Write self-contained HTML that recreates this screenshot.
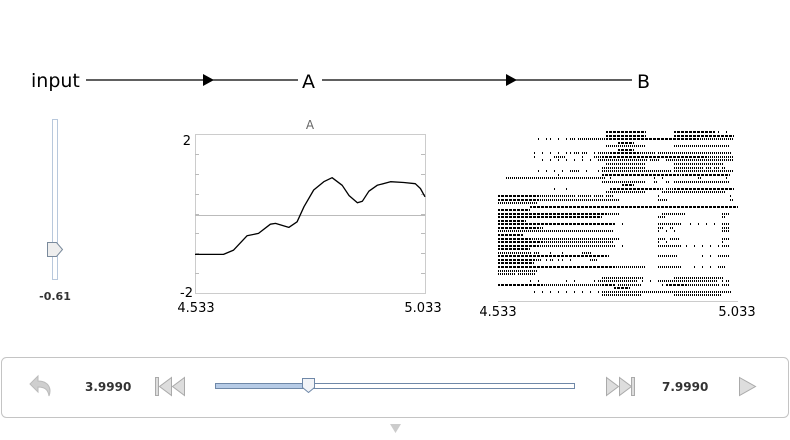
<!DOCTYPE html>
<html><head><meta charset="utf-8"><style>
body{margin:0;width:790px;height:440px;background:#fff;overflow:hidden;font-family:"Liberation Sans","DejaVu Sans",sans-serif}
svg{position:absolute;left:0;top:0}
</style></head><body>
<svg id="s" width="790" height="440" viewBox="0 0 790 440" font-family="DejaVu Sans, Liberation Sans, sans-serif">
  <g>
    <text x="31" y="87" font-size="19" fill="#000">input</text>
    <line x1="86" y1="80" x2="298" y2="80" stroke="#000" stroke-width="1.2"/>
    <polygon points="203,74 214,80 203,86" fill="#000"/>
    <text x="302" y="88" font-size="19" fill="#000">A</text>
    <line x1="322" y1="80" x2="632" y2="80" stroke="#000" stroke-width="1.2"/>
    <polygon points="506,74 517,80 506,86" fill="#000"/>
    <text x="637" y="88" font-size="19" fill="#000">B</text>
  </g>
  <g>
    <rect x="52.5" y="119.5" width="5" height="160" fill="#fff" stroke="#b8c8dc"/>
    <polygon points="47.5,242.5 56.5,242.5 62.5,249.5 56.5,256.5 47.5,256.5" fill="#eee" stroke="#7a8a9c"/>
    <text x="55" y="300" font-size="11" font-weight="bold" text-anchor="middle" fill="#333">-0.61</text>
  </g>
  <g id="plotA"></g>
  <g id="raster"></g>
  <g>
    <rect x="1.5" y="357.5" width="787" height="60" rx="5" fill="#fff" stroke="#c4c4c4"/>
    <g>
      <path d="M38,376 L30,384 L38,392 L38,387 C44,387 48,389 49,396 C52,388 48,381 38,381 Z" fill="#cfcfcf" stroke="#bbb"/>
    </g>
    <text x="85" y="391" font-size="12" font-weight="bold" fill="#333">3.9990</text>
    <g fill="#ddd" stroke="#aaa">
      <rect x="155.5" y="377.5" width="3" height="18"/>
      <polygon points="171.5,377.5 159.5,386.5 171.5,395.5"/>
      <polygon points="184.5,377.5 172.5,386.5 184.5,395.5"/>
    </g>
    <rect x="215.5" y="383.5" width="359" height="5" fill="#fff" stroke="#6f88a8"/>
    <rect x="216" y="384" width="92" height="4" fill="#b6cbe6"/>
    <polygon points="302.5,378.5 314.5,378.5 314.5,387.5 308.5,392.5 302.5,387.5" fill="#f2f4f8" stroke="#6f88a8"/>
    <g fill="#ddd" stroke="#aaa">
      <polygon points="606.5,377.5 618.5,386.5 606.5,395.5"/>
      <polygon points="619.5,377.5 631.5,386.5 619.5,395.5"/>
      <rect x="631.5" y="377.5" width="3" height="18"/>
    </g>
    <text x="662" y="391" font-size="12" font-weight="bold" fill="#333">7.9990</text>
    <polygon points="739.5,377.5 755.5,386.5 739.5,395.5" fill="#ddd" stroke="#aaa"/>
  </g>
  <polygon points="390,424 401,424 395.5,433" fill="#ccc"/>
</svg>
<script>
const NS="http://www.w3.org/2000/svg";
const plotTimes=[4.533,4.595,4.617,4.646,4.671,4.697,4.708,4.737,4.755,4.770,4.791,4.813,4.831,4.853,4.868,4.886,4.897,4.911,4.929,4.958,4.987,5.012,5.023,5.033];
const plotValues=[-1.03,-1.03,-0.92,-0.56,-0.5,-0.27,-0.25,-0.35,-0.21,0.17,0.59,0.8,0.9,0.71,0.45,0.27,0.31,0.56,0.71,0.8,0.78,0.75,0.63,0.42];
const yTickLabels=["2","-2"];
const xTickLabels=["4.533","5.033"];
const rasterRows=[
"                           ##########       ##########.. .  ",
"                           ##########       ############### ",
"          . .. . .:.:::::::#######################::::::::: ",
"                              ####                          ",
"                           ::::::::::       ::::::::::::::  ",
"                              ####                          ",
"         . . . . ..:.:. .:::#######::::.::::::::::::::::::. ",
"         .    :::    .  ::##########################:::::::",
"           . . . . . . . ::::::::::::.::. ::::::::::::::::: ",
"                           ::::::::::       ::::::::::::.   ",
"                          :::::::::::       :::::::.:.:.:   ",
"          . . . . ::. .  .:::::::::::::::::.::::::::::::::: ",
"               .          ###################:############ ",
"  ::::::::::::::::::::::::: .          . .        :      . ",
"                          :::::::::::  :  : ::::::::::::::  ",
"                               ###                          ",
"              .  .          ############:.::############### ",
"                           ::::::::::    ::::::::::::::::   ",
"##########:::::::::.:::.::.::           .                 . ",
"##########::::::::::::::::::::.         ::.               : ",
"::::::::::                                                  ",
"        ####################################################",
"########                                                    ",
"###########################:::.          ::::::         ::  ",
"##########################              ::              :   ",
"#######                                                     ",
"#############################. .        ::::::  . . . . ::  ",
"##########:.                            :. :            ::  ",
":::::::::::::::::::::::::::::           . . .           ::  ",
"######.                                                     ",
"########::::::::::::::::::::::.         :: ::.          ::  ",
"###########::::::::::::::::::           . .             .   ",
"##########:::::::::::::::::::. .        :::::: . . . . .::  ",
"########                                                    ",
"::::::::.:.  .  .    ::.                                    ",
"###########################:            :::::      . . :::  ",
"#########:: .: .. .    ::                                   ",
"#########                                                   ",
"#############################::::::::   ::::::   . . . ::   ",
"::::::::::                                                  ",
"::::.::::.                                                  ",
"                          ::::::::::.       ::::::::::::.   ",
"        . .      . .    .:::::::::: . . ::::::::::::::: .:  ",
"###########:::::::::::::::###.::::::     .#####::::::::.::  ",
"                             ####                           ",
"         . . . . . . . . .::::::::::::::::::::::::::::::::. ",
"                          ::::::::::        ::::::::::::    "
];

// value plot
const P={x0:195,x1:425,y0:134,y1:293,vmin:-2,vmax:2,tmin:4.533,tmax:5.033};
const sx=t=>P.x0+(t-P.tmin)/(P.tmax-P.tmin)*(P.x1-P.x0);
const sy=v=>P.y1-(v-P.vmin)/(P.vmax-P.vmin)*(P.y1-P.y0);
const pa=document.getElementById('plotA');
function mk(tag,attrs,parent){const e=document.createElementNS(NS,tag);for(const k in attrs)e.setAttribute(k,attrs[k]);parent.appendChild(e);return e;}
let frame=mk('rect',{x:P.x0+.5,y:P.y0+.5,width:P.x1-P.x0,height:P.y1-P.y0,fill:'#fff',stroke:'#ccc'},pa);


for(let i=1;i<8;i++){const v=P.vmin+i*0.5;const t=mk('line',{x1:P.x0,x2:P.x0+4,y1:Math.round(sy(v))+.5,y2:Math.round(sy(v))+.5,stroke:'#bbb'},pa);


const t2=mk('line',{x1:P.x1-4,x2:P.x1,y1:Math.round(sy(v))+.5,y2:Math.round(sy(v))+.5,stroke:'#bbb'},pa);

}
let zl=mk('line',{x1:P.x0,x2:P.x1,y1:Math.round(sy(0))+1.5,y2:Math.round(sy(0))+1.5,stroke:'#bbb'},pa);


let ttl=mk('text',{x:(P.x0+P.x1)/2,y:129,'font-size':12,'text-anchor':'middle',fill:'#666'},pa);ttl.textContent='A';


let yl1=mk('text',{x:191,y:145,'font-size':13,'text-anchor':'end'},pa);yl1.textContent=yTickLabels[0];


let yl2=mk('text',{x:193,y:297,'font-size':13,'text-anchor':'end'},pa);yl2.textContent=yTickLabels[1];


let xl1=mk('text',{x:196,y:312,'font-size':13,'text-anchor':'middle'},pa);xl1.textContent=xTickLabels[0];


let xl2=mk('text',{x:423,y:312,'font-size':13,'text-anchor':'middle'},pa);xl2.textContent=xTickLabels[1];


let line=mk('polyline',{points:plotTimes.map((t,i)=>sx(t).toFixed(1)+','+sy(plotValues[i]).toFixed(1)).join(' '),fill:'none',stroke:'#000','stroke-width':1.3,'stroke-linejoin':'round'},pa);



// raster
const R={x0:498,x1:738,y0:131,y1:298};
const rg=document.getElementById('raster');
let ax=mk('line',{x1:R.x0,x2:R.x1,y1:301.5,y2:301.5,stroke:'#ccc'},rg);


let r1=mk('text',{x:498,y:316,'font-size':13,'text-anchor':'middle'},rg);r1.textContent=xTickLabels[0];


let r2=mk('text',{x:737,y:316,'font-size':13,'text-anchor':'middle'},rg);r2.textContent=xTickLabels[1];


const nb=60,rh=(R.y1-R.y0)/rasterRows.length,bw=(R.x1-R.x0)/nb;
let d='';
rasterRows.forEach((row,ri)=>{const y=Math.round(R.y0+ri*rh);
 for(let b=0;b<row.length;b++){const c=row[b];const n=c==='#'?3:c===':'?2:c==='.'?1:0;
  for(let k=0;k<n;k++){const x=Math.round(R.x0+b*bw+k*(bw/n));d+='M'+x+','+y+'h1v2h-1z';}}});
let sp=mk('path',{d:d,fill:'#000'},rg);


</script>
</body></html>
